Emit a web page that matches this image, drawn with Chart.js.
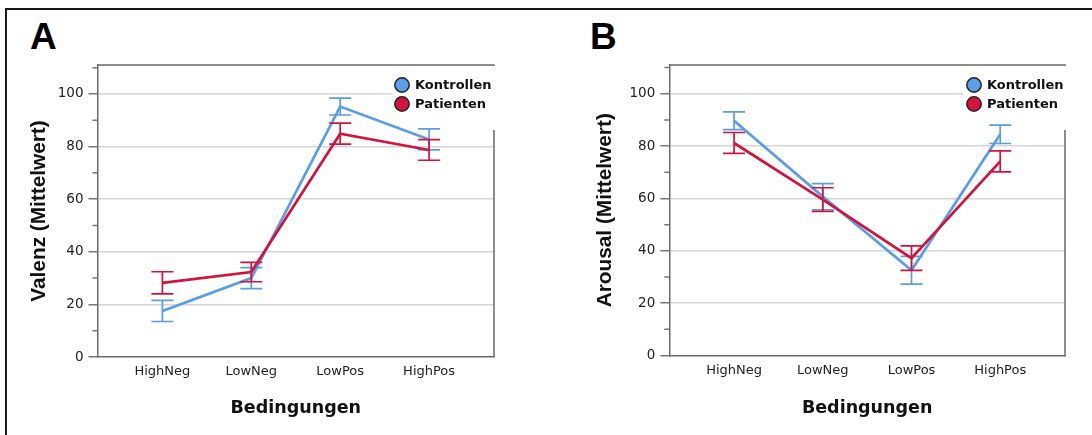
<!DOCTYPE html>
<html>
<head>
<meta charset="utf-8">
<title>Valenz und Arousal</title>
<script src="https://cdn.jsdelivr.net/npm/chart.js@4.4.0/dist/chart.umd.min.js"></script>
<style>
  html, body { margin: 0; padding: 0; background: #fff; overflow: hidden; }
  body { width: 1092px; height: 435px; position: relative; }
  #frame { position: absolute; left: 5px; top: 8px; width: 1200px; height: 600px; border: 2px solid #1a1a1a; }
  .letter { position: absolute; top: 18px; font: bold 37px "Liberation Sans", Arial, sans-serif; line-height: 37px; color: #000; }
  .panel { position: absolute; top: 0; width: 546px; height: 435px; }
</style>
</head>
<body>
<div id="frame"></div>
<div class="letter" style="left:30px">A</div>
<div class="letter" style="left:590px">B</div>
<div class="panel" style="left:0"><canvas id="chartA" width="546" height="435"></canvas></div>
<div class="panel" style="left:546px"><canvas id="chartB" width="546" height="435"></canvas></div>
<script>
const categories = ['HighNeg', 'LowNeg', 'LowPos', 'HighPos'];
const groups = ['Kontrollen', 'Patienten'];
const yTicks = [0, 20, 40, 60, 80, 100];

// Valenz (A)
const valenzKontrollen = [17.5, 30.0, 95.2, 82.7];
const valenzKontrollenErr = [4.0, 4.0, 3.2, 4.0];
const valenzPatienten = [28.2, 32.3, 84.9, 78.7];
const valenzPatientenErr = [4.2, 3.7, 4.0, 3.9];

// Arousal (B)
const arousalKontrollen = [89.7, 60.7, 32.6, 84.5];
const arousalKontrollenErr = [3.4, 5.0, 5.3, 3.5];
const arousalPatienten = [81.2, 59.6, 37.2, 74.2];
const arousalPatientenErr = [4.0, 4.5, 4.7, 4.0];

const BLUE = '#5b9de8';
const RED = '#d2143c';

Chart.defaults.font.family = '"DejaVu Sans", sans-serif';
Chart.defaults.color = '#222';

const toPoints = (vals) => vals.map((v, i) => ({ x: i, y: v }));

const errorBars = {
  id: 'errorBars',
  afterDatasetDraw(chart, args) {
    const ds = chart.data.datasets[args.index];
    if (!ds.errors) return;
    const { ctx, scales: { x, y } } = chart;
    ctx.save();
    ctx.strokeStyle = ds.borderColor;
    ctx.lineWidth = 1.7;
    ds.data.forEach((pt, i) => {
      const px = x.getPixelForValue(pt.x);
      const top = y.getPixelForValue(pt.y + ds.errors[i]);
      const bot = y.getPixelForValue(pt.y - ds.errors[i]);
      ctx.beginPath();
      ctx.moveTo(px, top); ctx.lineTo(px, bot);
      ctx.moveTo(px - 11, top); ctx.lineTo(px + 11, top);
      ctx.moveTo(px - 11, bot); ctx.lineTo(px + 11, bot);
      ctx.stroke();
    });
    ctx.restore();
  }
};

// top + right edge of the plot box, short minor ticks, white legend patch
const plotFrame = {
  id: 'plotFrame',
  beforeDatasetsDraw(chart) {
    const { ctx, chartArea: a, scales: { y } } = chart;
    ctx.save();
    ctx.strokeStyle = '#6a6a6a';
    ctx.lineWidth = 1.5;
    ctx.beginPath();
    ctx.moveTo(a.left, a.top);
    ctx.lineTo(a.right, a.top);
    ctx.lineTo(a.right, a.bottom);
    ctx.stroke();

    ctx.strokeStyle = '#777';
    ctx.beginPath();
    y.ticks.forEach((t) => {
      if (yTicks.includes(t.value)) return;
      const py = y.getPixelForValue(t.value);
      ctx.moveTo(a.left - 5, py);
      ctx.lineTo(a.left, py);
    });
    ctx.stroke();

    const leg = chart.options.plugins.insetLegend;
    if (leg && leg.box) {
      const [bx, by, bw, bh] = leg.box;
      ctx.fillStyle = '#fff';
      ctx.fillRect(bx, by, bw, bh);
    }
    ctx.restore();
  }
};

const insetLegend = {
  id: 'insetLegend',
  afterDraw(chart, args, opts) {
    const { ctx } = chart;
    ctx.save();
    ctx.font = 'bold 13px "DejaVu Sans", sans-serif';
    ctx.textBaseline = 'middle';
    chart.data.datasets.forEach((ds, i) => {
      const cy = opts.y + i * opts.gap;
      ctx.beginPath();
      ctx.arc(opts.x, cy, 7.2, 0, Math.PI * 2);
      ctx.fillStyle = ds.borderColor;
      ctx.fill();
      ctx.lineWidth = 1.5;
      ctx.strokeStyle = '#222';
      ctx.stroke();
      ctx.fillStyle = '#111';
      ctx.fillText(ds.label, opts.x + 13, cy + 1);
    });
    ctx.restore();
  }
};

const makeChart = (id, cfg) => {
  return new Chart(document.getElementById(id), {
    type: 'line',
    data: {
      datasets: [
        { label: groups[0], data: toPoints(cfg.kontrollen), errors: cfg.kontrollenErr,
          borderColor: BLUE, borderWidth: 2.7, pointRadius: 0, order: 1, tension: 0 },
        { label: groups[1], data: toPoints(cfg.patienten), errors: cfg.patientenErr,
          borderColor: RED, borderWidth: 2.7, pointRadius: 0, order: 0, tension: 0 }
      ]
    },
    options: {
      responsive: false,
      animation: false,
      events: [],
      layout: { padding: { left: 0, top: 65, right: cfg.padRight, bottom: 0 } },
      plugins: {
        legend: { display: false },
        tooltip: { enabled: false },
        insetLegend: cfg.legend
      },
      scales: {
        x: {
          type: 'linear',
          min: -0.73,
          max: 3.73,
          grid: { display: false, drawTicks: false },
          border: { color: '#6a6a6a', width: 1.5 },
          ticks: {
            stepSize: 1,
            includeBounds: false,
            maxRotation: 0,
            padding: 7,
            font: { size: 13 },
            color: '#222',
            callback: (v) => (Number.isInteger(v) && categories[v]) ? categories[v] : ''
          },
          title: {
            display: true,
            text: 'Bedingungen',
            font: { size: 17.5, weight: 'bold' },
            color: '#111',
            padding: { top: 0, bottom: 16 }
          },
          afterFit: (s) => { s.height = cfg.xHeight; }
        },
        y: {
          min: 0,
          max: 111,
          grid: {
            color: (c) => (c.tick && c.tick.value > 0 && yTicks.includes(c.tick.value)) ? '#d6d6d6' : 'rgba(0,0,0,0)',
            lineWidth: 1.5,
            tickColor: (c) => (c.tick && yTicks.includes(c.tick.value)) ? '#777' : 'rgba(0,0,0,0)',
            tickLength: 9
          },
          border: { color: '#6a6a6a', width: 1.5 },
          ticks: {
            stepSize: 10,
            includeBounds: false,
            autoSkip: false,
            padding: 5,
            font: { size: 13.5 },
            color: '#222',
            callback: (v) => yTicks.includes(v) ? String(v) : ''
          },
          title: {
            display: true,
            text: cfg.yTitle,
            font: { family: '"Liberation Sans", Arial, sans-serif', size: 20.8, weight: 'bold' },
            color: '#111',
            padding: { top: cfg.yTitlePad, bottom: 0 }
          },
          afterFit: (s) => { s.width = cfg.yWidth; }
        }
      }
    },
    plugins: [plotFrame, errorBars, insetLegend]
  });
};

makeChart('chartA', {
  kontrollen: valenzKontrollen, kontrollenErr: valenzKontrollenErr,
  patienten: valenzPatienten, patientenErr: valenzPatientenErr,
  yTitle: 'Valenz (Mittelwert)', yTitlePad: 27,
  yWidth: 97.5, xHeight: 78, padRight: 52,
  legend: { box: [392, 66, 106, 64], x: 402, y: 85, gap: 19 }
});

makeChart('chartB', {
  kontrollen: arousalKontrollen, kontrollenErr: arousalKontrollenErr,
  patienten: arousalPatienten, patientenErr: arousalPatientenErr,
  yTitle: 'Arousal (Mittelwert)', yTitlePad: 47,
  yWidth: 123.3, xHeight: 79.5, padRight: 27,
  legend: { box: [417, 66, 106, 64], x: 428, y: 85, gap: 19 }
});
</script>
</body>
</html>
